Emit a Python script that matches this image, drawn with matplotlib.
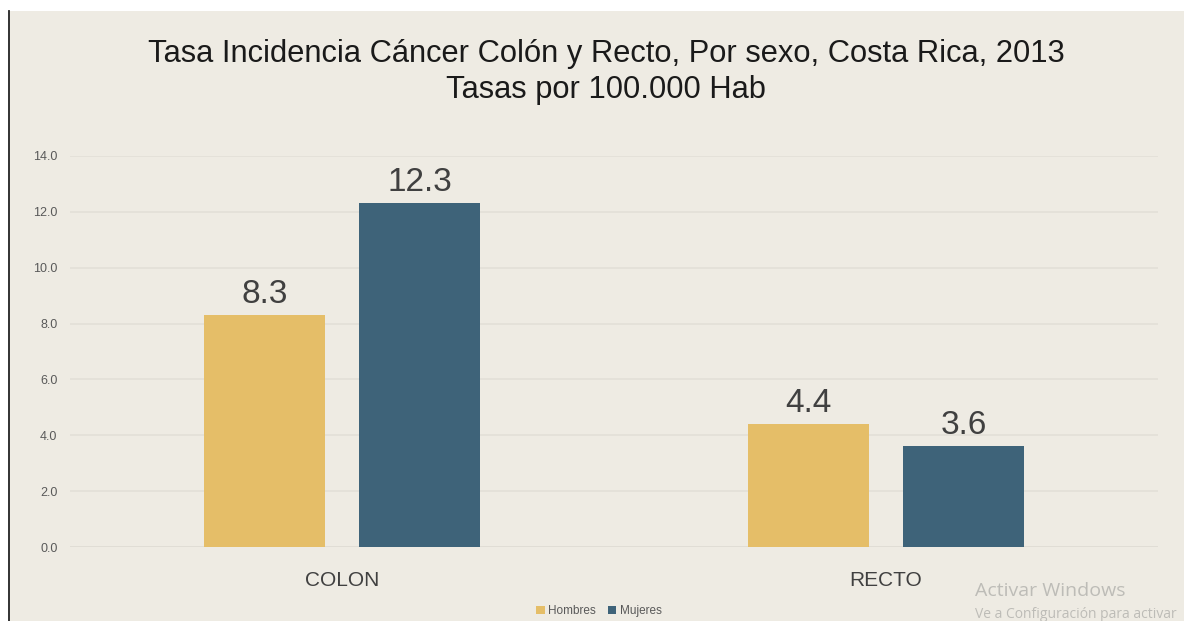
#Tasa incidencia cancer colon y recto
import matplotlib
matplotlib.use('Agg')
import matplotlib.pyplot as plt
from matplotlib.patches import Rectangle, Patch
import numpy as np

plt.rcParams['font.family'] = ['Liberation Sans', 'DejaVu Sans']

categorias = ['COLON', 'RECTO']
hombres = [8.3, 4.4]
mujeres = [12.3, 3.6]
series = ['Hombres', 'Mujeres']
colores = ['#E5BE68', '#3E6379']
yticks = [0, 2, 4, 6, 8, 10, 12, 14]

fondo = '#EEEBE3'
W, H = 1187, 621

fig = plt.figure(figsize=(W/100, H/100), dpi=100, facecolor='white')

# fondo beige y linea izquierda de la captura
fig.patches.append(Rectangle((10/W, 0), (1184-10)/W, 1 - 11/H, transform=fig.transFigure,
                             facecolor=fondo, edgecolor='none', zorder=-5))
fig.lines.append(plt.Line2D([9.5/W, 9.5/W], [0, 1 - 11/H], transform=fig.transFigure,
                            color='#222222', lw=1.3, zorder=-4))

ax = fig.add_axes([70/W, (H-547)/H, (1158-70)/W, (547-156)/H])
ax.set_facecolor('none')

x = np.arange(len(categorias))
ancho = 0.224
off = 0.1425
b1 = ax.bar(x - off, hombres, ancho, color=colores[0], label=series[0], zorder=3)
b2 = ax.bar(x + off, mujeres, ancho, color=colores[1], label=series[1], zorder=3)

for b in (b1, b2):
    ax.bar_label(b, fmt='%.1f', padding=4, fontsize=24, color='#404040')

ax.set_xlim(-0.5, 1.5)
ax.set_ylim(0, 14)
ax.set_yticks(yticks)
ax.set_yticklabels(['%.1f' % v for v in yticks], fontsize=9, color='#595959')
ax.set_xticks(x)
ax.set_xticklabels(categorias, fontsize=15, color='#404040')
ax.tick_params(axis='y', length=0, pad=9)
ax.tick_params(axis='x', length=0, pad=17)
for s in ax.spines.values():
    s.set_visible(False)
ax.yaxis.grid(True, color='#E2DFD7', lw=1.2, zorder=0)
ax.axhline(0, color='#D4D2CC', lw=1.2, zorder=1)

fig.text(606/W, 1 - 72/H, 'Tasa Incidencia Cáncer Colón y Recto, Por sexo, Costa Rica, 2013\nTasas por 100.000 Hab',
         ha='center', va='center', fontsize=22.2, color='#1a1a1a', linespacing=1.22)

handles = [Patch(facecolor=c, label=s) for c, s in zip(colores, series)]
fig.legend(handles=handles, loc='center', bbox_to_anchor=(599/W, 1 - 611/H), ncol=2,
           frameon=False, fontsize=8.5, labelcolor='#595959', handlelength=0.7, handleheight=0.7,
           handletextpad=0.3, columnspacing=1.0)

# marca de agua de la captura
fig.text(975/W, 1 - 591/H, 'Activar Windows', fontsize=14, color='#BDBCB7',
         family=['Open Sans', 'DejaVu Sans'], va='center')
fig.text(975/W, 1 - 614/H, 'Ve a Configuración para activar', fontsize=10, color='#BDBCB7',
         family=['Open Sans', 'DejaVu Sans'], va='center')

fig.savefig('out.png', dpi=100, facecolor='white')
